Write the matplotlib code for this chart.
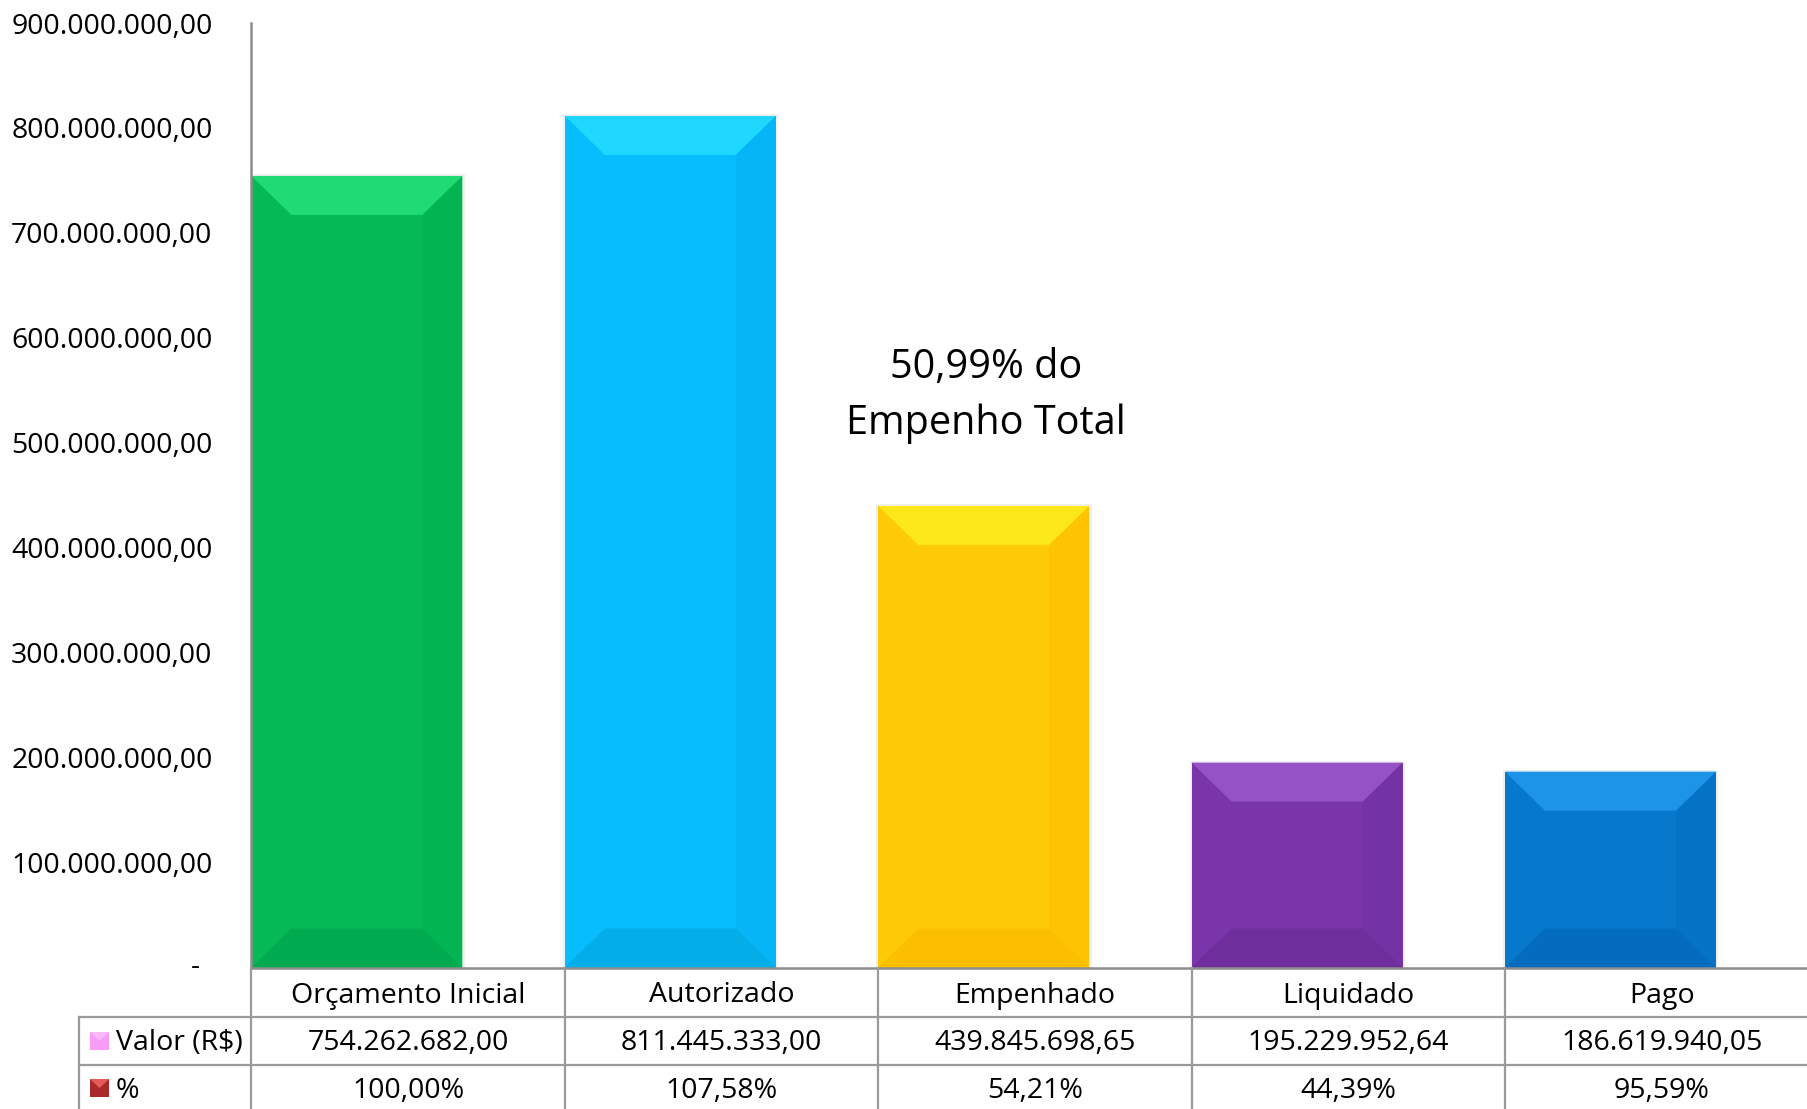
import matplotlib
matplotlib.use("Agg")
import matplotlib.pyplot as plt
from matplotlib.patches import Polygon, Rectangle
import numpy as np

# Dados
categorias = ["Orçamento Inicial", "Autorizado", "Empenhado", "Liquidado", "Pago"]
valores = [754262682.00, 811445333.00, 439845698.65, 195229952.64, 186619940.05]
percentuais = ["100,00%", "107,58%", "54,21%", "44,39%", "95,59%"]
yticks = [0, 100e6, 200e6, 300e6, 400e6, 500e6, 600e6, 700e6, 800e6, 900e6]
anotacao = "50,99% do\nEmpenho Total"

# cores: corpo, topo, lado direito, base
cores = [
    ("#05B955", "#20DA74", "#02B552", "#00AA4E"),
    ("#07BDFD", "#1FD7FF", "#05B5F6", "#03ADE8"),
    ("#FECB06", "#FDE81A", "#FEC402", "#FCBE00"),
    ("#7935A9", "#9452C5", "#7433A4", "#6E2E9B"),
    ("#0779CC", "#1E94E8", "#0473C6", "#036CBF"),
]

plt.rcParams["font.family"] = ["Open Sans", "DejaVu Sans"]
fs = 20.5


def fmt_br(v):
    s = f"{v:,.2f}"
    return s.replace(",", "X").replace(".", ",").replace("X", ".")


W, H = 1808, 1109
fig = plt.figure(figsize=(W / 100, H / 100), dpi=100)

x0_px, y0_px = 251.4, 967.5
cat_px = 313.4
top_px = 23.0
ax = fig.add_axes([x0_px / W, (H - y0_px) / H, 5 * cat_px / W, (y0_px - top_px) / H])
ax.set_xlim(0, 5)
ax.set_ylim(0, 900e6)

largura = 0.673
bars = ax.bar(np.arange(5), valores, width=largura, align="edge",
              color=[c[0] for c in cores], zorder=2)

# bisel das barras (em unidades de dados)
bx = 40 / cat_px
by = 39 * 900e6 / (y0_px - top_px)
for b, c in zip(bars, cores):
    x, w, h = b.get_x(), b.get_width(), b.get_height()
    # sombra leve
    ax.add_patch(Rectangle((x - 0.006, -2e6), w + 0.014, h + 4e6, color="#000000",
                           alpha=0.06, zorder=1, lw=0))
    ax.add_patch(Polygon([(x + w - bx, by), (x + w, 0), (x + w, h), (x + w - bx, h - by)],
                         closed=True, color=c[2], lw=0, zorder=3))
    ax.add_patch(Polygon([(x, h), (x + w, h), (x + w - bx, h - by), (x + bx, h - by)],
                         closed=True, color=c[1], lw=0, zorder=3))
    ax.add_patch(Polygon([(x, 0), (x + w, 0), (x + w - bx, by), (x + bx, by)],
                         closed=True, color=c[3], lw=0, zorder=3))

for s in ["top", "right"]:
    ax.spines[s].set_visible(False)
for s in ["left", "bottom"]:
    ax.spines[s].set_color("#8C8C8C")
    ax.spines[s].set_linewidth(1.8)
    ax.spines[s].set_zorder(4)

ax.set_xticks([])
ax.set_yticks(yticks)
ax.set_yticklabels([""] + [fmt_br(v) for v in yticks[1:]], fontsize=fs)
ax.tick_params(axis="y", length=0, pad=28)
ax.text(-56 / cat_px, 0, "-", ha="center", va="center", fontsize=fs)

ax.text(2.344, 545e6, anotacao, ha="center", va="center", fontsize=28.5, linespacing=1.5)

# tabela de dados
tab = fig.add_axes([x0_px / W, 0, 5 * cat_px / W, (H - y0_px) / H])
tab.set_xlim(0, 5)
tab.set_ylim(H, y0_px)
tab.axis("off")
lc = "#9A9A9A"
xl = (79.3 - x0_px) / cat_px
for yy in [1016.5, 1065]:
    tab.plot([xl, 5], [yy, yy], color=lc, lw=1.6, clip_on=False)
tab.plot([xl, xl], [1016.5, H], color=lc, lw=1.6, clip_on=False)
for i in range(5):
    tab.plot([i, i], [y0_px, H], color=lc, lw=1.6, clip_on=False)

for i in range(5):
    tab.text(i + 0.5, 995.5, categorias[i], ha="center", va="center", fontsize=fs)
    tab.text(i + 0.5, 1043.5, fmt_br(valores[i]), ha="center", va="center", fontsize=fs)
    tab.text(i + 0.5, 1091.5, percentuais[i], ha="center", va="center", fontsize=fs)

xt = (116 - x0_px) / cat_px
tab.text(xt, 1043.5, "Valor (R$)", ha="left", va="center", fontsize=fs, clip_on=False)
tab.text(xt, 1091.5, "%", ha="left", va="center", fontsize=fs, clip_on=False)

# chaves da legenda
kx0, kx1 = (90 - x0_px) / cat_px, (109 - x0_px) / cat_px
km = (kx0 + kx1) / 2
tab.add_patch(Rectangle((kx0, 1032), kx1 - kx0, 18, color="#F99CF5", lw=0, clip_on=False))
tab.add_patch(Polygon([(kx0, 1032), (kx1, 1032), (km, 1041)], color="#FBB8F8", lw=0, clip_on=False))
tab.add_patch(Rectangle((kx0, 1079), kx1 - kx0, 18, color="#A82A2A", lw=0, clip_on=False))
tab.add_patch(Polygon([(kx0, 1079), (kx1, 1079), (km, 1088)], color="#E65A5A", lw=0, clip_on=False))

fig.savefig("out.png", dpi=100)
